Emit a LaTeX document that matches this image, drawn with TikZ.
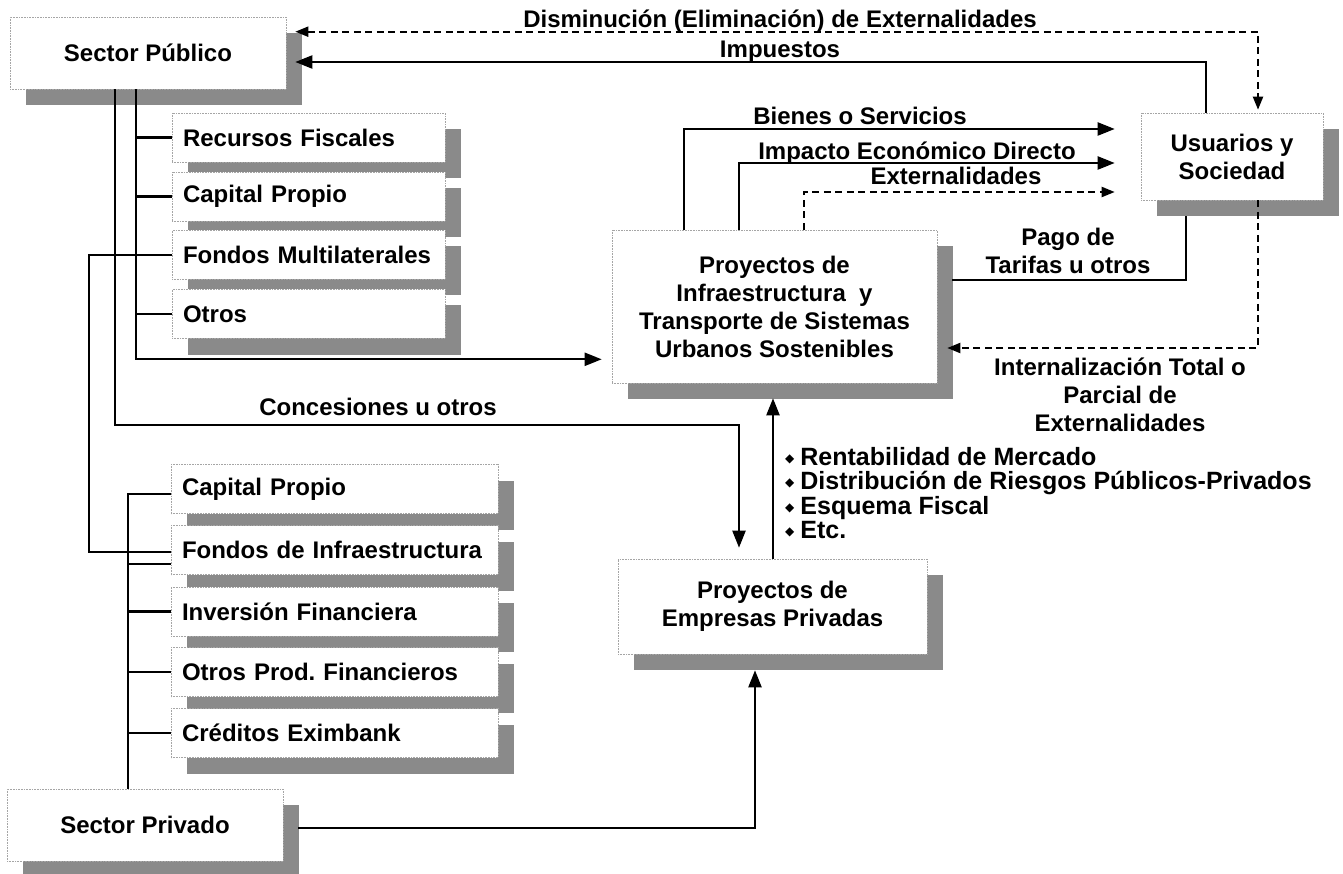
\documentclass[tikz,border=0pt]{standalone}
\usepackage{fontspec}
\setmainfont{Liberation Sans}
\newfontfamily\symfont{DejaVu Sans}
\usetikzlibrary{arrows.meta,shadows,calc}
\definecolor{shgray}{RGB}{138,138,138}
\definecolor{edgegray}{RGB}{165,165,165}
\frenchspacing

\begin{document}
\begin{tikzpicture}[x=1pt,y=-1pt,
  font=\bfseries\fontsize{24}{28}\selectfont,
  box/.style={draw=edgegray, line width=0.6pt, densely dotted, fill=white,
    inner sep=0pt,
    drop shadow={shadow xshift=16pt, shadow yshift=-16pt, fill=shgray, opacity=1}},
  cbox/.style={box, align=center},
  pubitem/.style={box, minimum height=49pt, inner xsep=11pt, text width=251pt, align=left},
  privitem/.style={box, minimum height=49pt, inner xsep=11pt, text width=305pt, align=left},
  conn/.style={line width=2.2pt},
  arr/.style={conn, -{Triangle[length=17pt,width=13pt]}},
  dsh/.style={line width=2pt, dash pattern=on 7pt off 4.5pt},
  darr/.style={dsh, -{Triangle[length=13pt,width=10pt]}},
  ddarr/.style={dsh, {Triangle[length=13pt,width=10pt]}-{Triangle[length=13pt,width=10pt]}},
  lbl/.style={anchor=base, inner sep=0pt}
]
\useasboundingbox (0,0) rectangle (1343,874);

% ---- main boxes ----
\node[cbox, minimum width=276pt, minimum height=72pt] (spub) at (148,53) {Sector Público};
\node[cbox, minimum width=276pt, minimum height=72pt] (spriv) at (145,825) {Sector Privado};
\node[cbox, minimum width=325pt, minimum height=153pt] (main) at (774.5,306.5)
  {Proyectos de\\Infraestructura\ \ y\\Transporte de Sistemas\\Urbanos Sostenibles};
\node[cbox, minimum width=182pt, minimum height=87pt] (usu) at (1232,156.5) {Usuarios y\\Sociedad};
\node[cbox, minimum width=309pt, minimum height=95pt] (emp) at (772.5,606.5) {Proyectos de\\Empresas Privadas};

% ---- public funding sources ----
\node[pubitem] (rf)  at (308.5,137.5) {Recursos Fiscales};
\node[pubitem] (cpP) at (308.5,196.5) {Capital Propio};
\node[pubitem] (fm)  at (308.5,255)   {Fondos Multilaterales};
\node[pubitem] (ot)  at (308.5,314)   {Otros};

% ---- private funding sources ----
\node[privitem] (cpV) at (334.5,489)   {Capital Propio};
\node[privitem] (fi)  at (334.5,550)   {Fondos de Infraestructura};
\node[privitem] (iv)  at (334.5,611.5) {Inversión Financiera};
\node[privitem] (op)  at (334.5,672)   {Otros Prod. Financieros};
\node[privitem] (ce)  at (334.5,733)   {Créditos Eximbank};

% ---- trunk and turn positions ----
\coordinate (tP) at (136,0);
\coordinate (tC) at (115,0);
\coordinate (tM) at (89,0);
\coordinate (tV) at (128,0);
\coordinate (cB) at (739,425);
\coordinate (xU) at (773,0);
\coordinate (xE) at (755,0);
\coordinate (xD) at (1258,0);
\coordinate (xI) at (1206,0);
\coordinate (xB) at (684,0);
\coordinate (xM) at (739,0);
\coordinate (xX) at (804,0);
\coordinate (xP) at (1186,0);

% public sector tree
\draw[arr] (spub.south -| tP) |- ($(main.south west)+(-10,-24)$);
\foreach \b in {rf,cpP,ot} \draw[conn] (tP |- \b.west) -- (\b.west);
\draw[conn] (fm.west) -| ($(tM |- fi.west)+(0,2)$) -- ($(fi.west)+(0,2)$);
\draw[arr] (spub.south -| tC) |- (cB) -- ($(emp.north -| cB)+(0,-11)$);

% private sector tree
\draw[conn] (spriv.north -| tV) |- ($(cpV.west)+(0,5)$);
\draw[conn] ($(fi.west -| tV)+(0,14)$) -- ($(fi.west)+(0,14)$);
\foreach \b in {iv,op,ce} \draw[conn] (tV |- \b.west) -- (\b.west);
\draw[arr] ($(spriv.east)+(15,3)$) -| ($(emp.south -| xE)+(0,16)$);

% private projects feed the main projects
\draw[arr] (emp.north -| xU) -- ($(main.south -| xU)+(0,15)$);

% flows between society and the public sector
\draw[ddarr] ($(spub.north east)+(9,15)$) -| ($(usu.north -| xD)+(0,-3)$);
\draw[arr] (usu.north -| xI) |- ($(spub.east)+(9,9)$);

% flows from the projects to users
\draw[arr] (main.north -| xB) |- ($(usu.west)+(-26,-27.5)$);
\draw[arr] (main.north -| xM) |- ($(usu.west)+(-26,6.5)$);
\draw[darr] (main.north -| xX) |- ($(usu.west)+(-26,35.5)$);

% flows from users back to the projects
\draw[conn] ($(usu.south -| xP)+(0,16)$) |- ($(main.east)+(15,-26.5)$);
\draw[darr] (usu.south -| xD) |- ($(main.east)+(10,41.5)$);

% ---- labels ----
\node[lbl] (lDis) at (780,28) {Disminución (Eliminación) de Externalidades};
\node[lbl] (lImp) at (780,58) {Impuestos};
\node[lbl] (lBie) at (860,125) {Bienes o Servicios};
\node[lbl] (lImD) at (917,160) {Impacto Económico Directo};
\node[lbl] (lExt) at (956,185) {Externalidades};
\node[lbl] (lCon) at (378,415) {Concesiones u otros};
\node[align=center, inner sep=0pt] (lPag) at (1068,251) {Pago de\\Tarifas u otros};
\node[align=center, inner sep=0pt] (lInt) at (1120,395) {Internalización Total o\\Parcial de\\Externalidades};

\foreach \t [count=\i from 0] in {Rentabilidad de Mercado, Distribución de Riesgos Públicos-Privados, Esquema Fiscal, Etc.}
  \node[anchor=base west, inner sep=0pt, font=\bfseries\fontsize{25}{25}\selectfont]
    (bul\i) at (785,{465.5+24.3*\i})
    {\raisebox{3pt}{\symfont\fontsize{12}{12}\selectfont ◆}\hspace{6pt}\t};

\end{tikzpicture}
\end{document}
